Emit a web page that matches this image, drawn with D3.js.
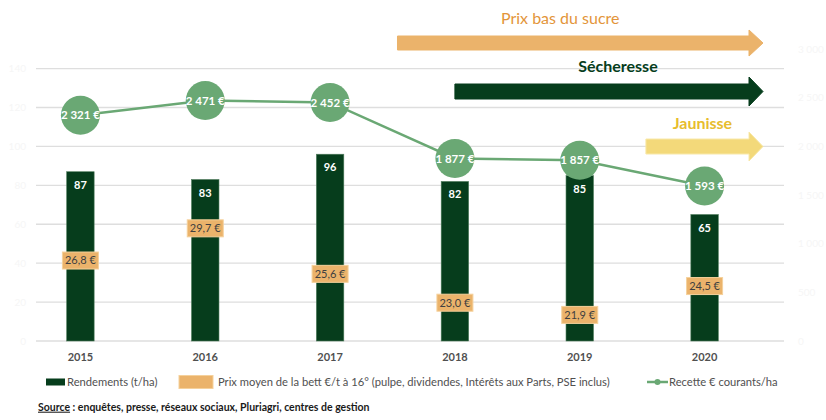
<!DOCTYPE html>
<html>
<head>
<meta charset="utf-8">
<script src="https://cdn.jsdelivr.net/npm/d3@7"></script>
<style>
  body { margin: 0; background: #fff; }
  #chart { width: 826px; height: 420px; }
  text { font-family: Lato, "Open Sans", sans-serif; }
</style>
</head>
<body>
<div id="chart"></div>
<script>
// values
const years = ["2015", "2016", "2017", "2018", "2019", "2020"];
const rendements = [87, 83, 96, 82, 85, 65];
const prixBett = [26.8, 29.7, 25.6, 23.0, 21.9, 24.5];
const recette = [2321, 2471, 2452, 1877, 1857, 1593];
const leftTicks = [0, 20, 40, 60, 80, 100, 120, 140];
const rightTicks = [0, 500, 1000, 1500, 2000, 2500, 3000];

const arrowLabels = ["Prix bas du sucre", "Sécheresse", "Jaunisse"];
const arrowStart = [2017.54, 2018, 2019.53]; // where each period starts (in years)

const legendLabels = [
  "Rendements (t/ha)",
  "Prix moyen de la bett €/t à 16° (pulpe, dividendes, Intérêts aux Parts, PSE inclus)",
  "Recette € courants/ha"
];

const W = 826, H = 420;
const C = {
  bar: "#063d1c",
  barEdge: "#4f7d5c",
  line: "#6aa874",
  orange: "#ebb36b",
  orangeEdge: "#f5d19c",
  grid: "#dedede",
  axisText: "#505050",
  faint: "#f6f6f6"
};

const svg = d3.select("#chart").append("svg")
  .attr("width", W).attr("height", H)
  .attr("viewBox", `0 0 ${W} ${H}`);

const x = d3.scaleBand().domain(years).range([18, 767]);
const cx = d => x(d) + x.bandwidth() / 2;
const yL = d3.scaleLinear().domain([0, 140]).range([341, 68.6]);
const yR = d3.scaleLinear().domain([0, 2800]).range([341, 68.6]);
const yP = d3.scaleLinear().domain([20, 30]).range([336, 225]);

// position of a (possibly fractional) year along x
const xYear = v => cx(years[0]) + (v - +years[0]) * x.step();

// gridlines
svg.append("g")
  .selectAll("line")
  .data(leftTicks)
  .join("line")
  .attr("x1", 36).attr("x2", 784)
  .attr("y1", d => yL(d)).attr("y2", d => yL(d))
  .attr("stroke", C.grid)
  .attr("stroke-width", 1.3);

// almost invisible axis labels (white-ish in the original)
svg.append("g")
  .selectAll("text")
  .data(leftTicks)
  .join("text")
  .attr("x", 26).attr("y", d => yL(d))
  .attr("dy", "0.35em")
  .attr("text-anchor", "end")
  .attr("font-size", 10)
  .attr("fill", C.faint)
  .text(d => d);

svg.append("g")
  .selectAll("text")
  .data(rightTicks)
  .join("text")
  .attr("x", 798).attr("y", d => yR(d))
  .attr("dy", "0.35em")
  .attr("text-anchor", "start")
  .attr("font-size", 10)
  .attr("fill", C.faint)
  .text(d => d3.format(",")(d).replace(",", " "));

// annotation arrows
const arrowEnd = 763, headStart = 749;
const arrowSpec = [
  { fill: C.orange, stroke: C.orange, mid: 43, shaft: 14, head: 26, text: "#e3953a", weight: 400, tx: -20, ty: 24 },
  { fill: C.bar, stroke: C.bar, mid: 91.5, shaft: 15, head: 29, text: C.bar, weight: 700, tx: 9, ty: 72 },
  { fill: "#f3d97a", stroke: "#f8e8a8", mid: 146.5, shaft: 15, head: 29, text: "#e7bd2e", weight: 700, tx: -2, ty: 129 }
];

const arrows = svg.append("g");
arrowLabels.forEach((label, i) => {
  const s = arrowSpec[i];
  const x0 = xYear(arrowStart[i]);
  const pts = [
    [x0, s.mid - s.shaft / 2],
    [headStart, s.mid - s.shaft / 2],
    [headStart, s.mid - s.head / 2],
    [arrowEnd, s.mid],
    [headStart, s.mid + s.head / 2],
    [headStart, s.mid + s.shaft / 2],
    [x0, s.mid + s.shaft / 2]
  ];
  arrows.append("path")
    .attr("d", d3.line()(pts) + "Z")
    .attr("fill", s.fill)
    .attr("stroke", s.stroke)
    .attr("stroke-width", 1);
  arrows.append("text")
    .attr("x", (x0 + arrowEnd) / 2 + s.tx)
    .attr("y", s.ty)
    .attr("text-anchor", "middle")
    .attr("font-size", 16)
    .attr("font-weight", s.weight)
    .attr("fill", s.text)
    .text(label);
});

// bars
const barW = x.bandwidth() * 0.22;
svg.append("g")
  .selectAll("rect")
  .data(years)
  .join("rect")
  .attr("x", d => cx(d) - barW / 2)
  .attr("y", (d, i) => yL(rendements[i]))
  .attr("width", barW)
  .attr("height", (d, i) => yL(0) - yL(rendements[i]))
  .attr("fill", C.bar)
  .attr("stroke", C.barEdge)
  .attr("stroke-width", 0.6);

svg.append("g")
  .selectAll("text")
  .data(years)
  .join("text")
  .attr("x", d => cx(d))
  .attr("y", (d, i) => yL(rendements[i]) + 17)
  .attr("text-anchor", "middle")
  .attr("font-size", 11)
  .attr("font-weight", 700)
  .attr("fill", "#fff")
  .text((d, i) => rendements[i]);

// prix labels
const fmtPrix = v => d3.format(".1f")(v).replace(".", ",") + " €";
const prixG = svg.append("g")
  .selectAll("g")
  .data(years)
  .join("g")
  .attr("transform", (d, i) => `translate(${cx(d)},${yP(prixBett[i])})`);
prixG.append("rect")
  .attr("x", -18).attr("y", -8.5)
  .attr("width", 36).attr("height", 17)
  .attr("fill", C.orange)
  .attr("stroke", C.orangeEdge)
  .attr("stroke-width", 1);
prixG.append("text")
  .attr("dy", "0.36em")
  .attr("text-anchor", "middle")
  .attr("font-size", 11)
  .attr("fill", "#404040")
  .text((d, i) => fmtPrix(prixBett[i]));

// recette line
const fmtEur = v => d3.format(",")(v).replace(",", " ") + " €";
svg.append("path")
  .datum(years)
  .attr("d", d3.line().x(d => cx(d)).y((d, i) => yR(recette[i])))
  .attr("fill", "none")
  .attr("stroke", C.line)
  .attr("stroke-width", 2.5);

const dots = svg.append("g")
  .selectAll("g")
  .data(years)
  .join("g")
  .attr("transform", (d, i) => `translate(${cx(d)},${yR(recette[i])})`);
dots.append("circle")
  .attr("r", 19.5)
  .attr("fill", C.line);
dots.append("text")
  .attr("dy", "0.36em")
  .attr("text-anchor", "middle")
  .attr("font-size", 11.5)
  .attr("font-weight", 700)
  .attr("fill", "#fff")
  .text((d, i) => fmtEur(recette[i]));

// year labels
svg.append("g")
  .selectAll("text")
  .data(years)
  .join("text")
  .attr("x", d => cx(d))
  .attr("y", 357)
  .attr("dy", "0.35em")
  .attr("text-anchor", "middle")
  .attr("font-size", 11)
  .attr("font-weight", 700)
  .attr("fill", C.axisText)
  .text(d => d);

// legend
const lg = svg.append("g").attr("font-size", 11.2);
lg.append("rect").attr("x", 46).attr("y", 378.5).attr("width", 19).attr("height", 7).attr("fill", C.bar);
lg.append("text").attr("x", 67).attr("y", 382).attr("dy", "0.35em").attr("fill", C.axisText).text(legendLabels[0]);
lg.append("rect").attr("x", 179).attr("y", 375.5).attr("width", 34).attr("height", 13).attr("fill", C.orange).attr("stroke", C.orangeEdge);
lg.append("text").attr("x", 218).attr("y", 382).attr("dy", "0.35em").attr("fill", C.axisText).text(legendLabels[1]);
lg.append("line").attr("x1", 647).attr("x2", 668).attr("y1", 382).attr("y2", 382).attr("stroke", C.line).attr("stroke-width", 2.5);
lg.append("circle").attr("cx", 657.5).attr("cy", 382).attr("r", 3).attr("fill", C.line);
lg.append("text").attr("x", 669).attr("y", 382).attr("dy", "0.35em").attr("fill", C.axisText).text(legendLabels[2]);

// source
const src = svg.append("text")
  .attr("x", 38).attr("y", 407)
  .attr("dy", "0.35em")
  .attr("font-size", 10.5)
  .attr("font-weight", 700)
  .attr("fill", "#1a1a1a");
src.append("tspan").attr("text-decoration", "underline").text("Source");
src.append("tspan").text(" : enquêtes, presse, réseaux sociaux, Pluriagri, centres de gestion");
</script>
</body>
</html>
